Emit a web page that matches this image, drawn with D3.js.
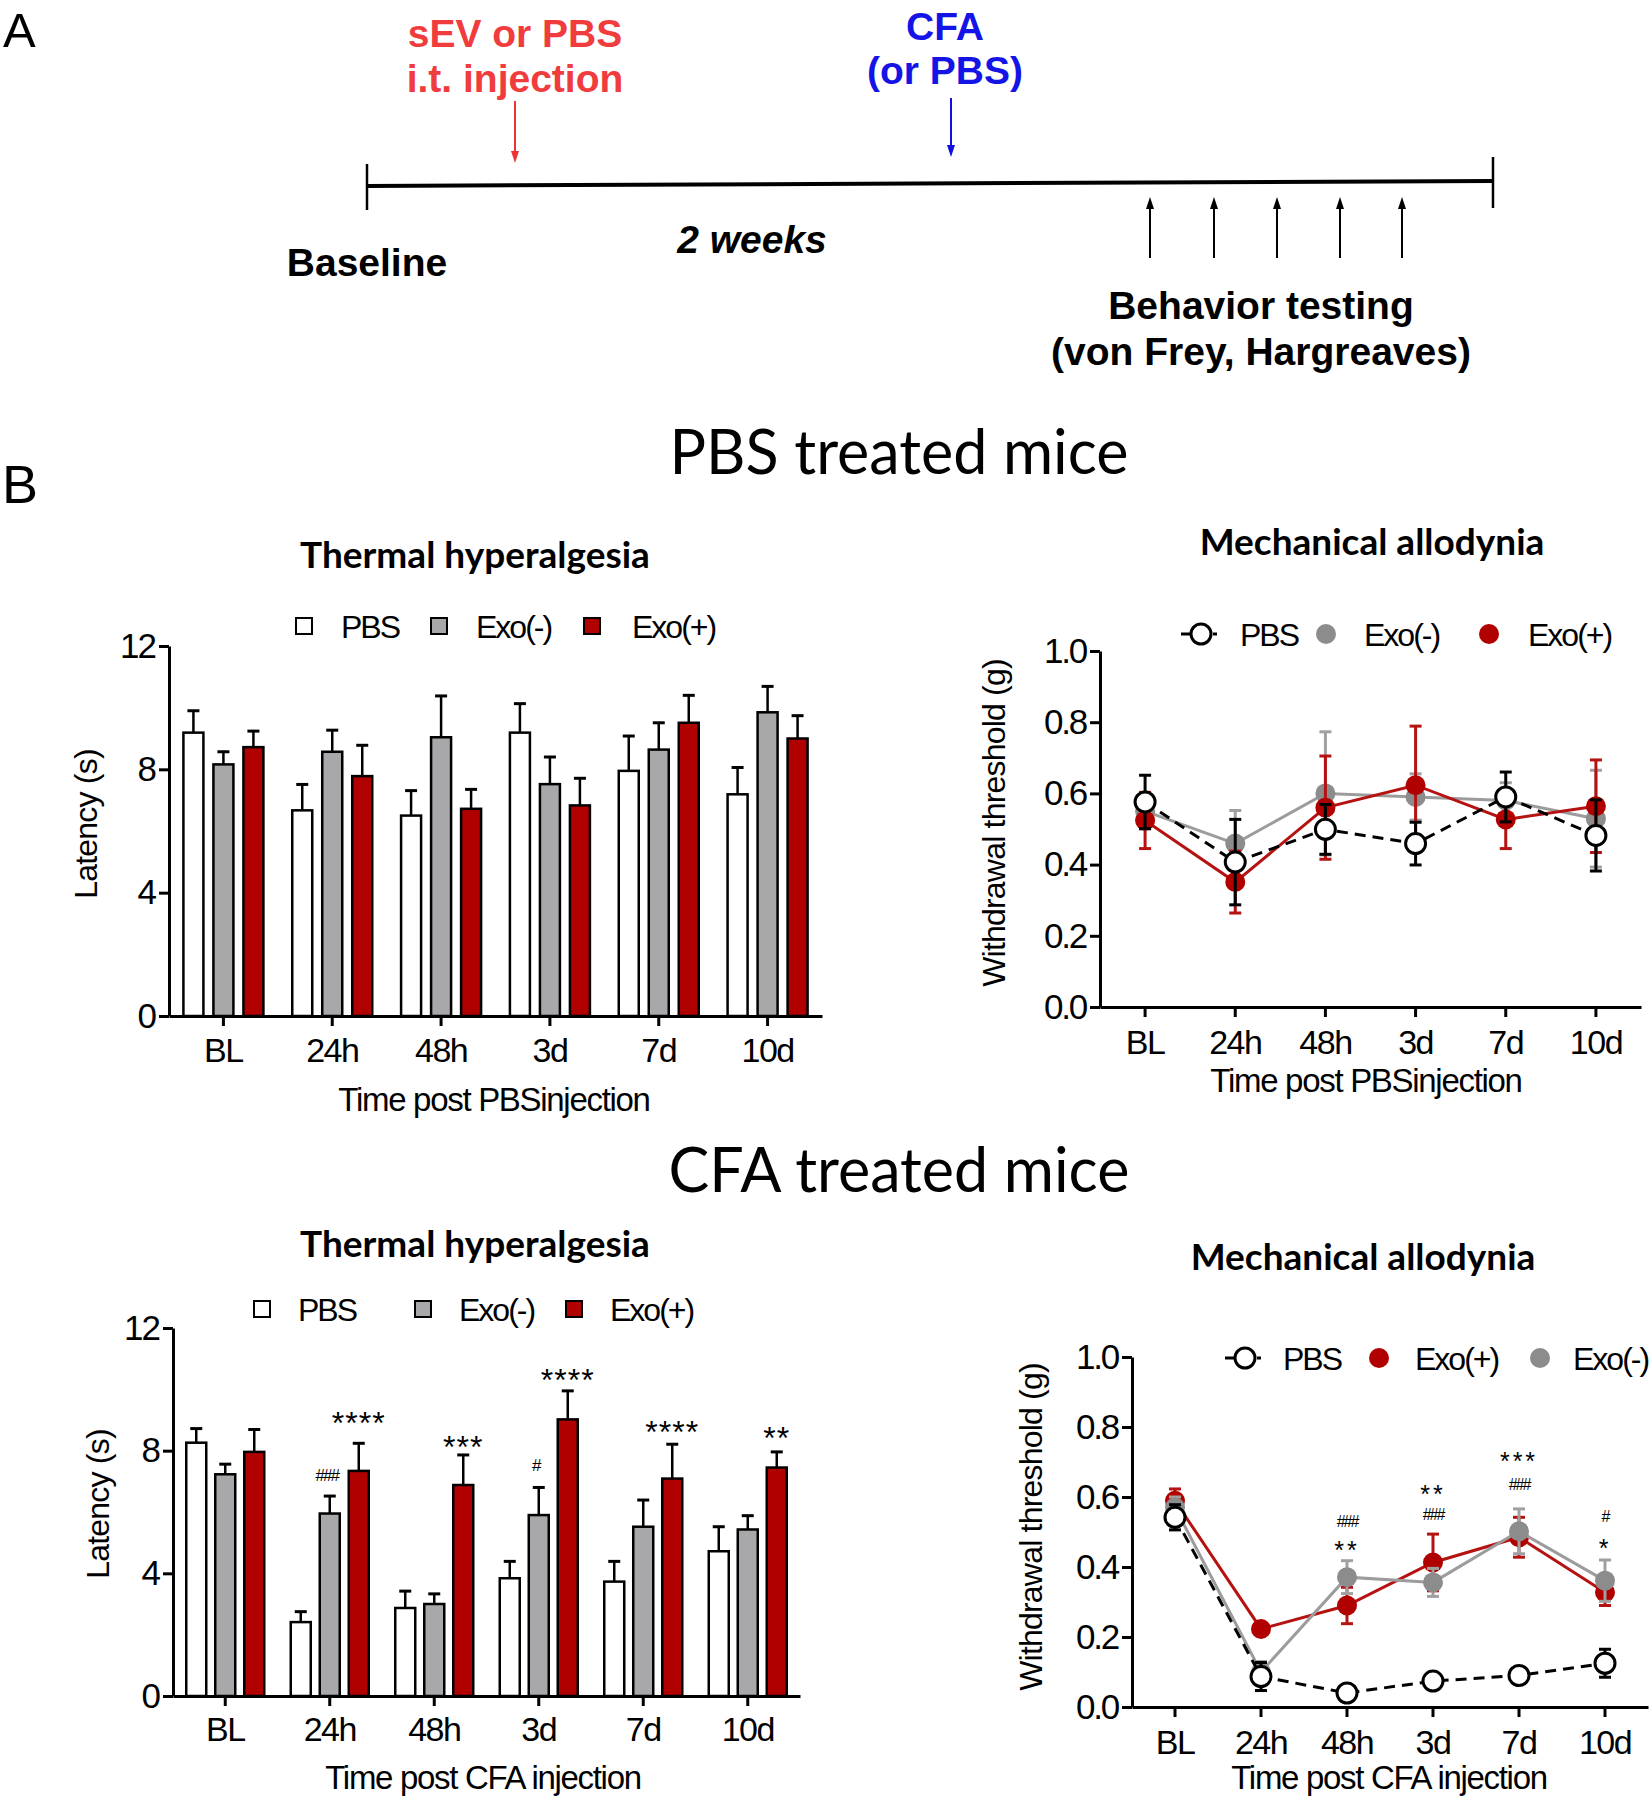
<!DOCTYPE html>
<html><head><meta charset="utf-8">
<script src="https://cdn.jsdelivr.net/npm/d3@7"></script>
<style>body{margin:0;background:#fff}</style>
</head><body><svg id="fig" width="1650" height="1800" xmlns="http://www.w3.org/2000/svg"></svg>
<script>
// ---------------- DATA ----------------
const categories = ["BL","24h","48h","3d","7d","10d"];
const seriesNames = ["PBS","Exo(-)","Exo(+)"];
const barTicks = [0,4,8,12];
const lineTicks = [0,0.2,0.4,0.6,0.8,1.0];

// PBS treated mice – thermal hyperalgesia (latency, s)
const pbsThermalPBS       = [9.19,6.67,6.50,9.19,7.95,7.19];
const pbsThermalPBSErr    = [0.71,0.84,0.81,0.94,1.13,0.87];
const pbsThermalExoNeg    = [8.16,8.57,9.04,7.52,8.64,9.85];
const pbsThermalExoNegErr = [0.41,0.70,1.34,0.88,0.87,0.84];
const pbsThermalExoPos    = [8.72,7.78,6.72,6.83,9.51,9.00];
const pbsThermalExoPosErr = [0.52,1.00,0.63,0.88,0.89,0.74];

// CFA treated mice – thermal hyperalgesia (latency, s)
const cfaThermalPBS       = [8.26,2.41,2.87,3.84,3.73,4.72];
const cfaThermalPBSErr    = [0.46,0.34,0.55,0.55,0.66,0.80];
const cfaThermalExoNeg    = [7.23,5.95,3.00,5.90,5.52,5.43];
const cfaThermalExoNegErr = [0.33,0.57,0.33,0.90,0.87,0.45];
const cfaThermalExoPos    = [7.96,7.34,6.88,9.02,7.09,7.45];
const cfaThermalExoPosErr = [0.73,0.90,0.98,0.93,1.12,0.51];
const cfaThermalStars  = ["","****","***","****","****","**"];
const cfaThermalStarY  = [null,9.13,8.35,10.53,8.84,8.64];
const cfaThermalHash   = ["","###","","#","",""];
const cfaThermalHashY  = [null,7.21,null,7.53,null,null];

// PBS treated mice – mechanical allodynia (threshold, g)
const pbsMechPBS       = [0.576,0.407,0.499,0.459,0.590,0.482];
const pbsMechPBSErr    = [0.075,0.120,0.070,0.060,0.070,0.100];
const pbsMechExoNeg    = [0.550,0.459,0.600,0.590,0.580,0.529];
const pbsMechExoNegErr = [0.050,0.093,0.173,0.065,0.050,0.136];
const pbsMechExoPos    = [0.524,0.351,0.560,0.623,0.527,0.564];
const pbsMechExoPosErr = [0.079,0.087,0.145,0.166,0.082,0.130];

// CFA treated mice – mechanical allodynia (threshold, g)
const cfaMechPBS       = [0.542,0.087,0.040,0.074,0.090,0.125];
const cfaMechPBSErr    = [0.036,0.040,0.010,0.012,0.012,0.040];
const cfaMechExoPos    = [0.589,0.223,0.290,0.413,0.485,0.328];
const cfaMechExoPosErr = [0.034,0.012,0.052,0.081,0.057,0.038];
const cfaMechExoNeg    = [0.570,0.100,0.371,0.356,0.502,0.361];
const cfaMechExoNegErr = [0.030,0.030,0.047,0.040,0.064,0.059];
const cfaMechStars = ["","","**","**","***","*"];
const cfaMechStarY = [null,null,0.462,0.622,0.718,0.469];
const cfaMechHash  = ["","","###","###","###","#"];
const cfaMechHashY = [null,null,0.531,0.552,0.636,0.545];

// ---------------- STYLE ----------------
const AX = "'Liberation Sans', Arial, sans-serif";
const TT = "Lato, 'Open Sans', sans-serif";
const RED = "#b00000", GRAYBAR = "#a8a8aa", GRAYDOT = "#8c8c8c", GRAYLINE = "#9c9c9c", REDLINE = "#b51212";
const svg = d3.select("#fig");

function txt(g, x, y, s, o) {
  o = o || {};
  const t = g.append("text").attr("x", x).attr("y", y).text(s)
    .attr("font-family", o.ff || AX).attr("font-size", o.fs || 28)
    .attr("font-weight", o.fw || "normal").attr("fill", o.fill || "#000")
    .attr("text-anchor", o.anchor || "middle");
  if (o.ls !== undefined) t.attr("letter-spacing", o.ls);
  if (o.italic) t.attr("font-style", "italic");
  if (o.rot) t.attr("transform", `rotate(-90,${x},${y})`).attr("dominant-baseline", "central");
  return t;
}
function styleAxis(g, fs, ls) {
  g.selectAll("path,line").attr("stroke", "#000").attr("stroke-width", 3);
  g.selectAll("text").attr("font-family", AX).attr("font-size", fs).attr("fill", "#000").attr("letter-spacing", ls);
}

// ---------------- PANEL A ----------------
(function timeline() {
  const g = svg.append("g");
  txt(g, 3, 47, "A", {fs: 49, anchor: "start"});
  g.append("line").attr("x1", 367).attr("y1", 186).attr("x2", 1493).attr("y2", 181).attr("stroke", "#000").attr("stroke-width", 4);
  g.append("line").attr("x1", 367).attr("y1", 164).attr("x2", 367).attr("y2", 210).attr("stroke", "#000").attr("stroke-width", 2.5);
  g.append("line").attr("x1", 1493).attr("y1", 157).attr("x2", 1493).attr("y2", 208).attr("stroke", "#000").attr("stroke-width", 2.5);
  function arrow(x, yFrom, yTo, col) {
    const dir = yTo > yFrom ? 1 : -1;
    g.append("line").attr("x1", x).attr("y1", yFrom).attr("x2", x).attr("y2", yTo - dir * 8).attr("stroke", col).attr("stroke-width", 2);
    g.append("path").attr("d", `M${x - 4},${yTo - dir * 12} L${x + 4},${yTo - dir * 12} L${x},${yTo} Z`).attr("fill", col);
  }
  arrow(515, 101, 163, "#ee3333");
  arrow(951, 98, 157, "#1010e0");
  [1150, 1214, 1277, 1340, 1402].forEach(x => arrow(x, 258, 197, "#000"));
  const B = {fs: 39, fw: "bold"};
  txt(g, 515, 47, "sEV or PBS", Object.assign({fill: "#f03c3c"}, B));
  txt(g, 515, 92, "i.t. injection", Object.assign({fill: "#f03c3c"}, B));
  txt(g, 945, 40, "CFA", Object.assign({fill: "#1414e6"}, B));
  txt(g, 945, 84, "(or PBS)", Object.assign({fill: "#1414e6"}, B));
  txt(g, 367, 276, "Baseline", B);
  txt(g, 752, 253, "2 weeks", Object.assign({italic: true}, B));
  txt(g, 1261, 319, "Behavior testing", B);
  txt(g, 1261, 365, "(von Frey, Hargreaves)", B);
  txt(g, 2, 503, "B", {fs: 54, anchor: "start"});
  txt(g, 899, 474, "PBS treated mice", {ff: TT, fs: 61});
  txt(g, 899, 1192, "CFA treated mice", {ff: TT, fs: 61});
})();

// ---------------- BAR CHART ----------------
function barChart(c) {
  const g = svg.append("g");
  const x = d3.scaleBand().domain(categories).range([c.x0, c.x1]);
  const y = d3.scaleLinear().domain([0, 12]).range([c.yb, c.yt]);
  const cx = (i) => x(categories[i]) + x.bandwidth() / 2;
  const bw = 20, cap = 6;
  c.series.forEach((s, k) => {
    const off = (k - 1) * c.off;
    const sg = g.append("g");
    sg.selectAll("line.e").data(s.vals).join("line")
      .attr("x1", (d, i) => cx(i) + off).attr("x2", (d, i) => cx(i) + off)
      .attr("y1", d => y(d)).attr("y2", (d, i) => y(d + s.errs[i]))
      .attr("stroke", "#000").attr("stroke-width", 2.5);
    sg.selectAll("line.c").data(s.vals).join("line")
      .attr("x1", (d, i) => cx(i) + off - cap).attr("x2", (d, i) => cx(i) + off + cap)
      .attr("y1", (d, i) => y(d + s.errs[i])).attr("y2", (d, i) => y(d + s.errs[i]))
      .attr("stroke", "#000").attr("stroke-width", 3);
    sg.selectAll("rect").data(s.vals).join("rect")
      .attr("x", (d, i) => cx(i) + off - bw / 2).attr("width", bw)
      .attr("y", d => y(d)).attr("height", d => y(0) - y(d))
      .attr("fill", s.fill).attr("stroke", "#000").attr("stroke-width", 2.5);
  });
  (c.marks || []).forEach(m => {
    const off = (m.series - 1) * c.off;
    m.text.forEach((t, i) => {
      if (!t) return;
      const isStar = t[0] === "*";
      txt(g, cx(i) + off + (m.dx || 0), y(m.y[i]) + (isStar ? m.fs * 0.56 : m.fs * 0.36), t,
        {fs: m.fs, ls: isStar ? 1 : -2});
    });
  });
  const ya = g.append("g").attr("transform", `translate(${c.x0},0)`)
    .call(d3.axisLeft(y).tickValues(barTicks).tickSize(10).tickSizeOuter(0).tickPadding(4));
  styleAxis(ya, 35, -2);
  const xa = g.append("g").attr("transform", `translate(0,${c.yb})`)
    .call(d3.axisBottom(x).tickSize(10).tickSizeOuter(0));
  styleAxis(xa, 34, -1.5);
  xa.selectAll("text").attr("dy", null).attr("y", c.xlabY - c.yb);
  txt(g, c.ylabX, c.ylabY, "Latency (s)", {fs: 32, rot: true, ls: -0.8});
  txt(g, c.xtitleX, c.xtitleY, c.xtitle, {fs: 33, ls: -1.3});
  txt(g, c.titleX, c.titleY, "Thermal hyperalgesia", {ff: TT, fs: 37, fw: "bold"});
  c.series.forEach((s, k) => {
    g.append("rect").attr("x", c.leg[k][0] - 8).attr("y", c.legY - 8).attr("width", 16).attr("height", 16)
      .attr("fill", s.fill).attr("stroke", "#000").attr("stroke-width", 2);
    txt(g, c.leg[k][1], c.legY + 12, seriesNames[k], {fs: 32, anchor: "start", ls: -2});
  });
}

barChart({
  x0: 169, x1: 822, yb: 1016, yt: 646, off: 30, xlabY: 1062,
  series: [
    {vals: pbsThermalPBS, errs: pbsThermalPBSErr, fill: "#fff"},
    {vals: pbsThermalExoNeg, errs: pbsThermalExoNegErr, fill: GRAYBAR},
    {vals: pbsThermalExoPos, errs: pbsThermalExoPosErr, fill: RED}],
  ylabX: 86, ylabY: 824, xtitle: "Time post PBSinjection", xtitleX: 494, xtitleY: 1111,
  titleX: 475, titleY: 568, legY: 626, leg: [[304, 341], [439, 476], [592, 632]]
});
barChart({
  x0: 173, x1: 800, yb: 1696, yt: 1328, off: 29, xlabY: 1741,
  series: [
    {vals: cfaThermalPBS, errs: cfaThermalPBSErr, fill: "#fff"},
    {vals: cfaThermalExoNeg, errs: cfaThermalExoNegErr, fill: GRAYBAR},
    {vals: cfaThermalExoPos, errs: cfaThermalExoPosErr, fill: RED}],
  marks: [
    {series: 2, text: cfaThermalStars, y: cfaThermalStarY, fs: 32},
    {series: 1, text: cfaThermalHash, y: cfaThermalHashY, fs: 17, dx: -3}],
  ylabX: 98, ylabY: 1504, xtitle: "Time post CFA injection", xtitleX: 483, xtitleY: 1789,
  titleX: 475, titleY: 1257, legY: 1309, leg: [[262, 298], [423, 459], [574, 610]]
});

// ---------------- LINE CHART ----------------
function lineChart(c) {
  const g = svg.append("g");
  const x = d3.scaleBand().domain(categories).range([c.x0, c.x1]);
  const y = d3.scaleLinear().domain([0, 1]).range([c.yb, c.yt]);
  const cx = (i) => x(categories[i]) + x.bandwidth() / 2;
  const r = 10, cap = 6;
  const ya = g.append("g").attr("transform", `translate(${c.x0},0)`)
    .call(d3.axisLeft(y).tickValues(lineTicks).tickFormat(d3.format(".1f")).tickSize(10).tickSizeOuter(0).tickPadding(4));
  styleAxis(ya, 35, -2.2);
  const xa = g.append("g").attr("transform", `translate(0,${c.yb})`)
    .call(d3.axisBottom(x).tickSize(10).tickSizeOuter(0));
  styleAxis(xa, 34, -1.5);
  xa.selectAll("text").attr("dy", null).attr("y", c.xlabY - c.yb);
  c.order.forEach(k => {
    const s = c.series[k];
    const sg = g.append("g");
    const line = d3.line().x((d, i) => cx(i)).y(d => y(d));
    sg.append("path").attr("d", line(s.vals)).attr("fill", "none")
      .attr("stroke", s.line).attr("stroke-width", 3).attr("stroke-dasharray", s.dash || null);
    sg.selectAll("line.e").data(s.vals).join("line")
      .attr("x1", (d, i) => cx(i)).attr("x2", (d, i) => cx(i))
      .attr("y1", (d, i) => y(d - s.errs[i])).attr("y2", (d, i) => y(d + s.errs[i]))
      .attr("stroke", s.err).attr("stroke-width", 3);
    [1, -1].forEach(sg2 => {
      sg.selectAll(null).data(s.vals).join("line")
        .attr("x1", (d, i) => cx(i) - cap).attr("x2", (d, i) => cx(i) + cap)
        .attr("y1", (d, i) => y(d + sg2 * s.errs[i])).attr("y2", (d, i) => y(d + sg2 * s.errs[i]))
        .attr("stroke", s.err).attr("stroke-width", 3);
    });
    sg.selectAll("circle").data(s.vals).join("circle")
      .attr("cx", (d, i) => cx(i)).attr("cy", d => y(d)).attr("r", r)
      .attr("fill", s.fill).attr("stroke", s.stroke || "none").attr("stroke-width", 3);
  });
  (c.marks || []).forEach(m => {
    m.text.forEach((t, i) => {
      if (!t) return;
      const isStar = t[0] === "*";
      txt(g, cx(i), y(m.y[i]) + (isStar ? m.fs * 0.56 : m.fs * 0.36), t, {fs: m.fs, ls: isStar ? 3 : -2});
    });
  });
  txt(g, c.ylabX, c.ylabY, "Withdrawal threshold (g)", {fs: 32, rot: true, ls: -0.8});
  txt(g, c.xtitleX, c.xtitleY, c.xtitle, {fs: 33, ls: -1.3});
  txt(g, c.titleX, c.titleY, "Mechanical allodynia", {ff: TT, fs: 37, fw: "bold"});
  c.leg.forEach(l => {
    const s = c.series[l[2]];
    if (s.dash) {
      g.append("line").attr("x1", l[0] - 20).attr("x2", l[0] - 11).attr("y1", c.legY).attr("y2", c.legY).attr("stroke", "#000").attr("stroke-width", 3);
      g.append("line").attr("x1", l[0] + 12).attr("x2", l[0] + 16).attr("y1", c.legY).attr("y2", c.legY).attr("stroke", "#000").attr("stroke-width", 3);
    }
    g.append("circle").attr("cx", l[0]).attr("cy", c.legY).attr("r", r)
      .attr("fill", s.fill).attr("stroke", s.stroke || "none").attr("stroke-width", 3);
    txt(g, l[1], c.legY + 12, seriesNames[l[2]], {fs: 32, anchor: "start", ls: -2});
  });
}

const pbsS = (v, e) => ({vals: v, errs: e, fill: "#fff", stroke: "#000", line: "#000", err: "#000", dash: "11,7"});
const negS = (v, e) => ({vals: v, errs: e, fill: GRAYDOT, line: GRAYLINE, err: "#a0a0a0"});
const posS = (v, e) => ({vals: v, errs: e, fill: RED, line: REDLINE, err: REDLINE});

lineChart({
  x0: 1100, x1: 1641, yb: 1007, yt: 651, xlabY: 1054,
  series: [pbsS(pbsMechPBS, pbsMechPBSErr), negS(pbsMechExoNeg, pbsMechExoNegErr), posS(pbsMechExoPos, pbsMechExoPosErr)],
  order: [1, 2, 0],
  ylabX: 994, ylabY: 823, xtitle: "Time post PBSinjection", xtitleX: 1366, xtitleY: 1092,
  titleX: 1372, titleY: 555, legY: 634, leg: [[1201, 1240, 0], [1326, 1364, 1], [1489, 1528, 2]]
});
lineChart({
  x0: 1132, x1: 1648, yb: 1707, yt: 1357, xlabY: 1754,
  series: [pbsS(cfaMechPBS, cfaMechPBSErr), negS(cfaMechExoNeg, cfaMechExoNegErr), posS(cfaMechExoPos, cfaMechExoPosErr)],
  order: [2, 1, 0],
  marks: [
    {text: cfaMechStars, y: cfaMechStarY, fs: 25},
    {text: cfaMechHash, y: cfaMechHashY, fs: 16}],
  ylabX: 1031, ylabY: 1527, xtitle: "Time post CFA injection", xtitleX: 1389, xtitleY: 1789,
  titleX: 1363, titleY: 1270, legY: 1358, leg: [[1245, 1283, 0], [1379, 1415, 2], [1540, 1573, 1]]
});
</script></body></html>
